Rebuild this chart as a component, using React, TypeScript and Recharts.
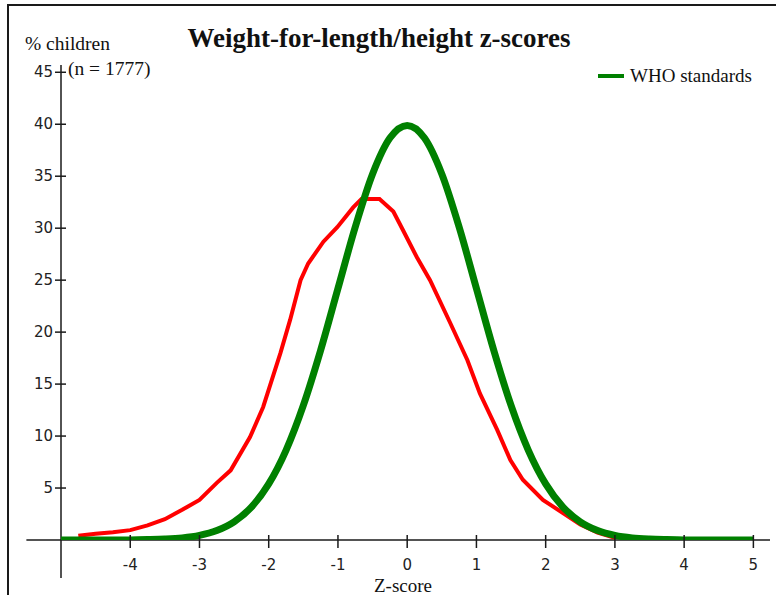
import { LineChart, Line, XAxis, YAxis, ReferenceLine, Legend } from 'recharts'

// axis ticks
const zTicks = [-4, -3, -2, -1, 0, 1, 2, 3, 4, 5]
const pctTicks = [5, 10, 15, 20, 25, 30, 35, 40, 45]

// survey sample (red curve)
const sampleZ = [
  -4.75, -4.5, -4.25, -4, -3.75, -3.5, -3.25, -3, -2.75, -2.55, -2.27, -2.08, -1.83, -1.69, -1.54, -1.43,
  -1.21, -1.01, -0.78, -0.66, -0.4, -0.2, -0.06, 0.14, 0.33, 0.62, 0.87, 1.05, 1.3, 1.49, 1.67, 1.96,
  2.25, 2.5, 2.75, 3,
]
const samplePct = [
  0.4, 0.6, 0.75, 0.95, 1.4, 2.0, 2.9, 3.85, 5.5, 6.7, 9.9, 12.8, 18.0, 21.2, 25.0, 26.6,
  28.7, 30.1, 32.0, 32.8, 32.8, 31.6, 29.8, 27.2, 25.0, 20.9, 17.3, 14.1, 10.6, 7.7, 5.8, 3.85,
  2.6, 1.5, 0.7, 0.2,
]

// WHO standards (green curve)
const whoZ = [
  -5, -4.5, -4, -3.75, -3.5, -3.25, -3, -2.75, -2.5, -2.25, -2, -1.75, -1.5, -1.25, -1, -0.75, -0.5, -0.25,
  0, 0.25, 0.5, 0.75, 1, 1.25, 1.5, 1.75, 2, 2.25, 2.5, 2.75, 3, 3.25, 3.5, 3.75, 4, 4.5, 5,
]
const whoPct = [
  0, 0, 0.01, 0.04, 0.09, 0.2, 0.44, 0.91, 1.75, 3.17, 5.4, 8.63, 12.95, 18.26, 24.2, 30.11, 35.21, 38.67,
  39.89, 38.67, 35.21, 30.11, 24.2, 18.26, 12.95, 8.63, 5.4, 3.17, 1.75, 0.91, 0.44, 0.2, 0.09, 0.04, 0.01, 0, 0,
]

const sampleData = sampleZ.map((z, i) => ({ z, pct: samplePct[i] }))
const whoData = whoZ.map((z, i) => ({ z, pct: whoPct[i] }))

const serif = '"Liberation Serif", "Times New Roman", serif'
const sans = '"DejaVu Sans", sans-serif'
const ink = '#1a1a1a'

const XTick = ({ x, y, payload }: any) => (
  <g>
    <line x1={x} x2={x} y1={y - 5} y2={y + 8} stroke={ink} strokeWidth={1.5} />
    <text x={x} y={y + 30} textAnchor="middle" fontSize={15} fontFamily={sans} fill="#222">
      {payload.value}
    </text>
  </g>
)

const YTick = ({ x, y, payload }: any) => (
  <g>
    <line x1={x - 6} x2={x + 5} y1={y} y2={y} stroke={ink} strokeWidth={1.5} />
    <text x={x - 8} y={y + 5} textAnchor="end" fontSize={15} fontFamily={sans} fill="#222">
      {payload.value}
    </text>
  </g>
)

const LegendBox = ({ payload }: any) => (
  <div>
    {(payload || [])
      .filter((p: any) => p.type !== 'none' && p.value === 'WHO standards')
      .map((p: any) => (
        <div key={p.value} style={{ display: 'flex', alignItems: 'center', fontFamily: serif, fontSize: 19, color: '#111', lineHeight: '20px' }}>
          <span style={{ display: 'inline-block', width: 26, height: 4, background: p.color, marginRight: 6 }} />
          {p.value}
        </div>
      ))}
  </div>
)

export default function App() {
  return (
    <div style={{ position: 'absolute', left: 0, top: 0, width: 776, height: 595, background: '#fff', overflow: 'hidden' }}>
      <div style={{ position: 'absolute', left: 7, top: 4, width: 780, height: 600, borderLeft: `2px solid ${ink}`, borderTop: `2px solid ${ink}` }} />
      <div style={{ position: 'absolute', left: 0, top: 0 }}>
        <LineChart width={776} height={595} margin={{ top: 65, right: 6, bottom: 25, left: 21 }}>
          <XAxis
            type="number"
            dataKey="z"
            domain={[-5, 5.24]}
            ticks={zTicks}
            interval={0}
            allowDataOverflow
            axisLine={false}
            tickLine={false}
            tickSize={0}
            tickMargin={0}
            height={30}
            tick={(props: any) => <XTick {...props} />}
          />
          <YAxis
            type="number"
            domain={[0, 45.7]}
            ticks={pctTicks}
            interval={0}
            allowDataOverflow
            axisLine={false}
            tickLine={false}
            tickSize={0}
            tickMargin={0}
            width={40}
            tick={(props: any) => <YTick {...props} />}
          />
          <ReferenceLine segment={[{ x: -5.5, y: 0 }, { x: 5.24, y: 0 }]} stroke={ink} strokeWidth={1.5} ifOverflow="visible" />
          <ReferenceLine segment={[{ x: -5, y: -3.65 }, { x: -5, y: 45.7 }]} stroke={ink} strokeWidth={1.5} ifOverflow="visible" />
          <Legend
            layout="horizontal"
            verticalAlign="middle"
            align="center"
            wrapperStyle={{ top: 66, left: 598, width: 'auto' }}
            content={(props: any) => <LegendBox {...props} />}
          />
          <Line
            data={sampleData}
            dataKey="pct"
            name="Sample"
            type="linear"
            stroke="#ff0000"
            strokeWidth={4}
            dot={false}
            legendType="none"
            isAnimationActive={false}
          />
          <Line
            data={whoData}
            dataKey="pct"
            name="WHO standards"
            type="monotone"
            stroke="#008000"
            strokeWidth={7}
            dot={false}
            isAnimationActive={false}
          />
        </LineChart>
      </div>
      <svg width={776} height={595} style={{ position: 'absolute', left: 0, top: 0, pointerEvents: 'none' }}>
        <text x={379} y={47} textAnchor="middle" fontFamily={serif} fontWeight="bold" fontSize={27} fill="#111">
          Weight-for-length/height z-scores
        </text>
        <text x={25} y={50} fontFamily={serif} fontSize={19.5} fill="#111">% children</text>
        <text x={68} y={75} fontFamily={serif} fontSize={19.5} fill="#111">(n = 1777)</text>
        <text x={403} y={592} textAnchor="middle" fontFamily={serif} fontSize={19} fill="#111">Z-score</text>
      </svg>
    </div>
  )
}
